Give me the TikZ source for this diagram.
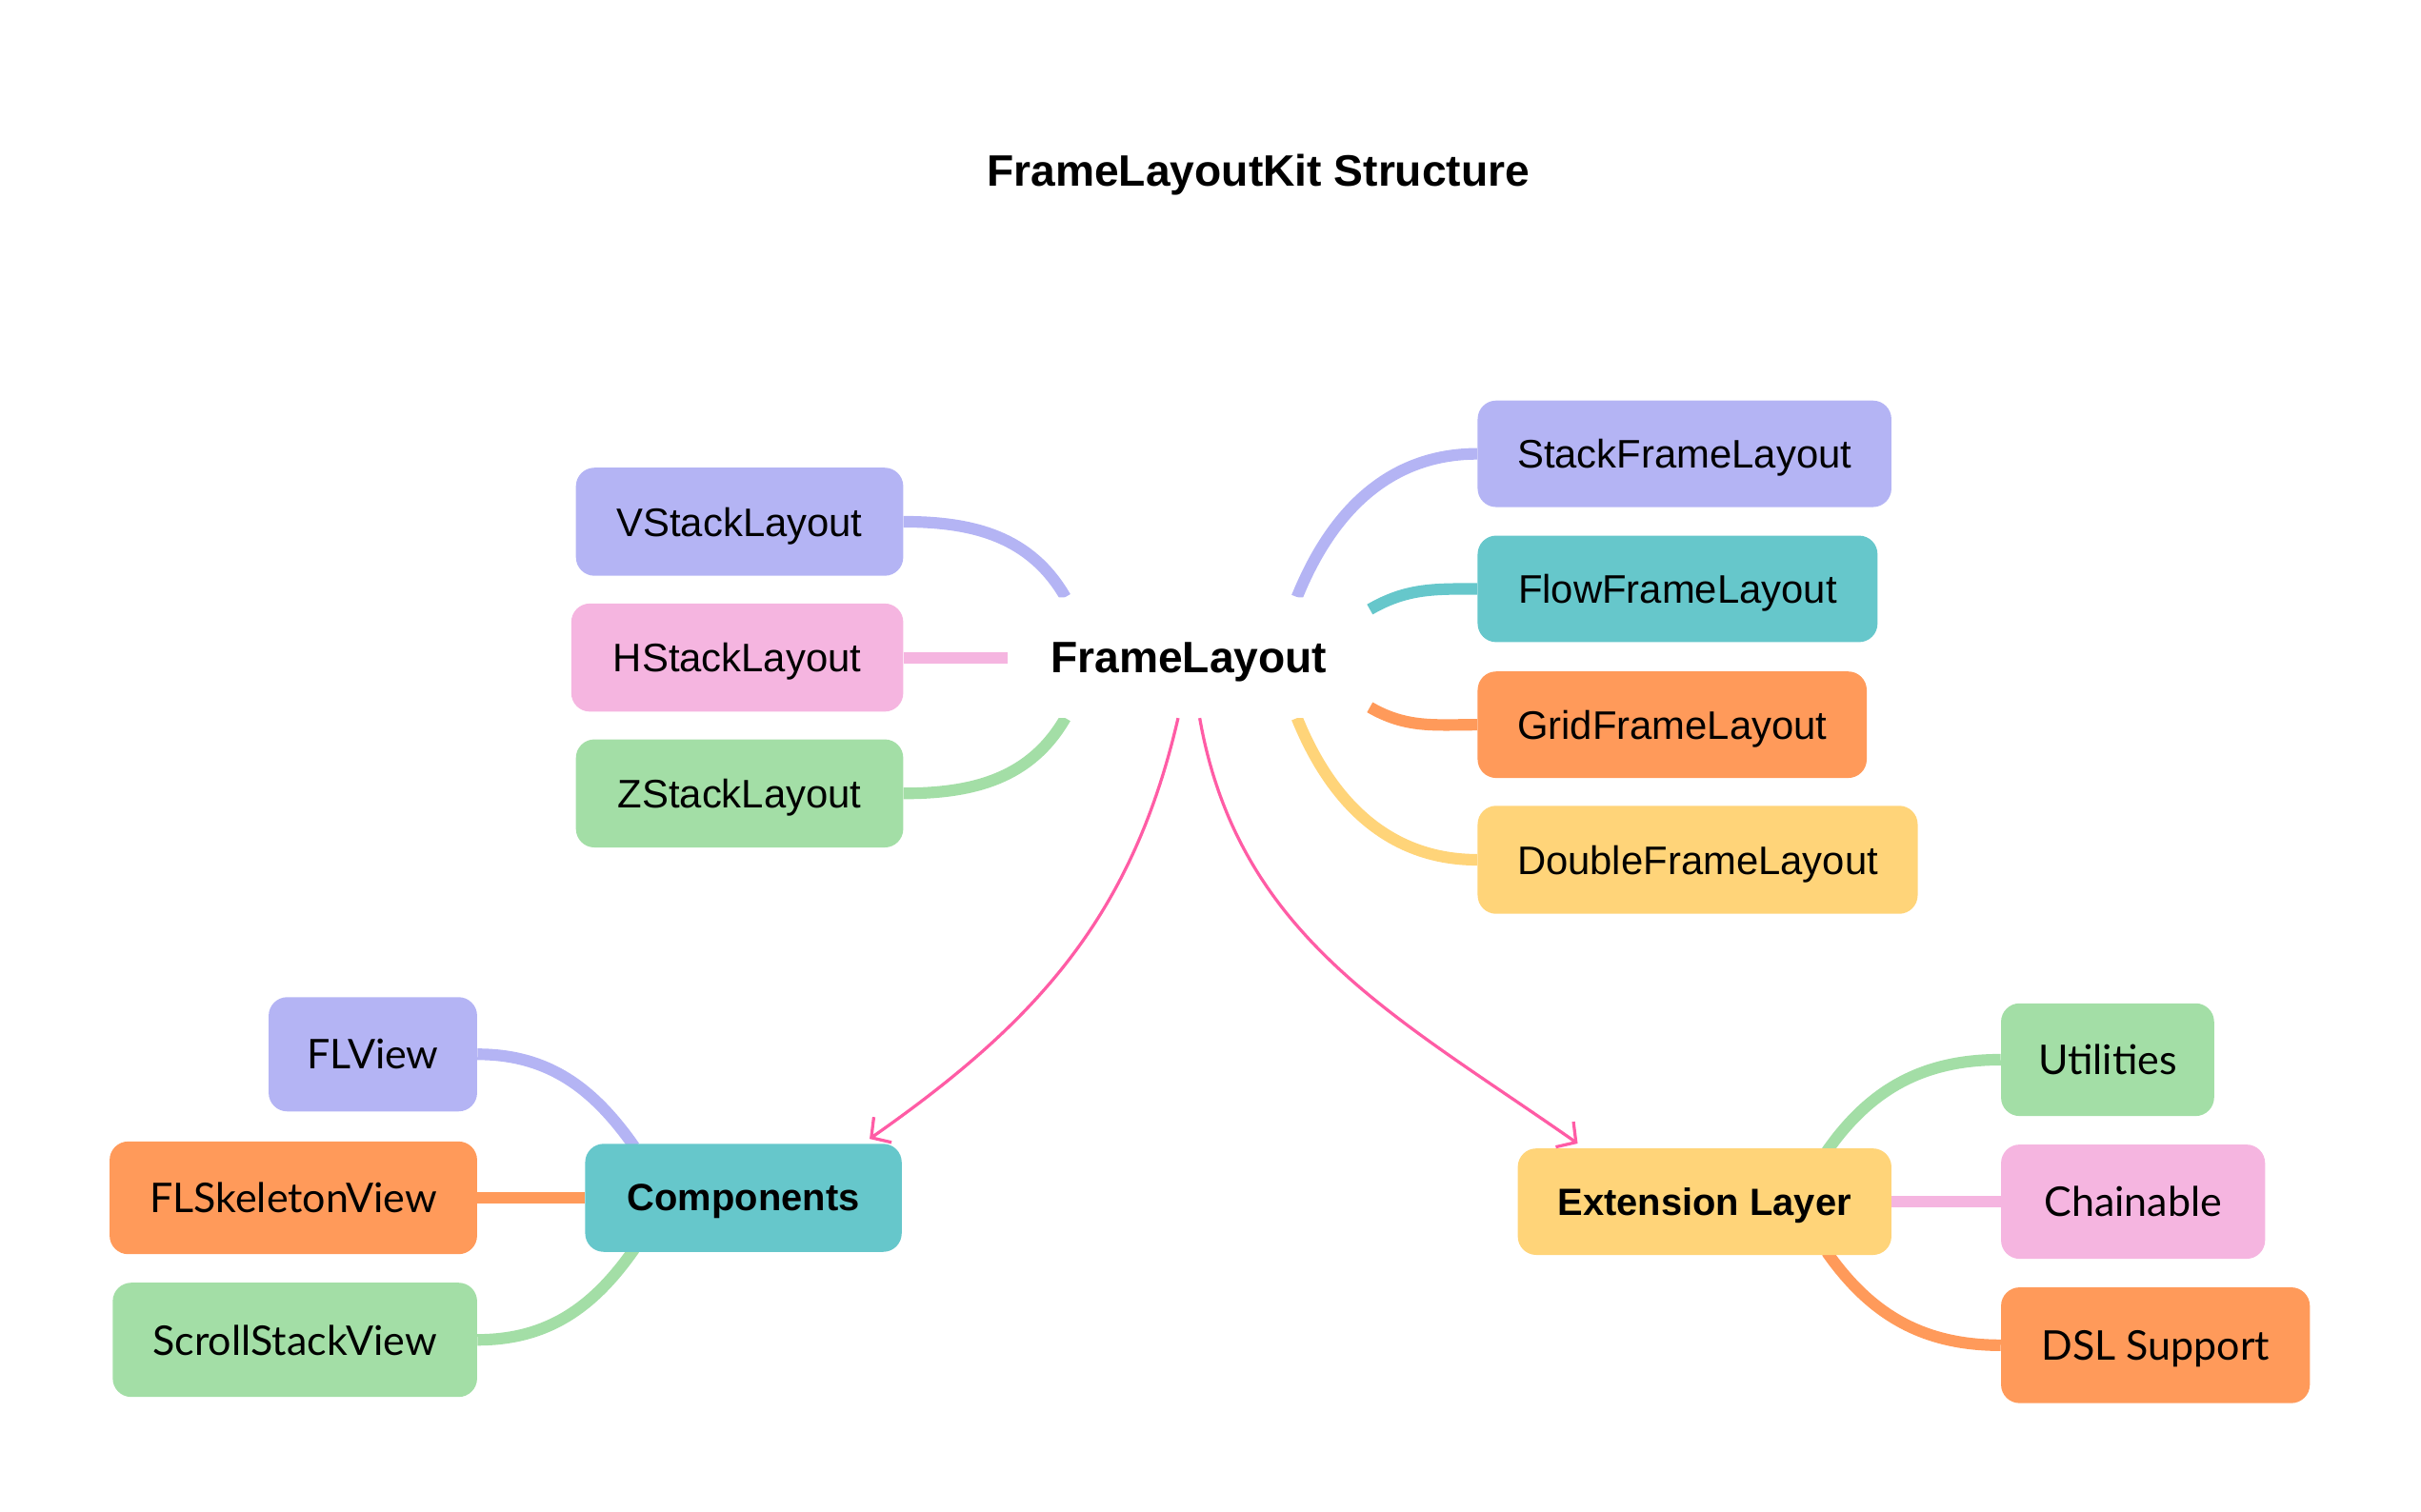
\documentclass[tikz,border=0pt]{standalone}
\usepackage{fontspec}
\setmainfont{Liberation Sans}
\newfontfamily\avfont{Lato}
\usetikzlibrary{arrows.meta,calc}
\definecolor{clav}{HTML}{B4B4F4}
\definecolor{cteal}{HTML}{66C7CB}
\definecolor{corange}{HTML}{FF9A5A}
\definecolor{cyellow}{HTML}{FFD479}
\definecolor{cpink}{HTML}{F5B5E0}
\definecolor{cgreen}{HTML}{A3DEA6}
\definecolor{carrow}{HTML}{FF5CA5}
\pgfdeclarelayer{bg}
\pgfsetlayers{bg,main}
\tikzset{
  box/.style={rounded corners=12pt, inner sep=0pt, text=black, text depth=0pt, font=\fontsize{25.8}{30}\selectfont},
  avbox/.style={rounded corners=12pt, inner sep=0pt, text=black, text depth=0pt, font=\avfont\fontsize{26.5}{30}\selectfont},
  hubbox/.style={rounded corners=12pt, inner sep=0pt, text=black, text depth=0pt, font=\bfseries\fontsize{24.6}{30}\selectfont},
  link/.style={line width=7.5pt, line cap=butt},
  arr/.style={draw=carrow, line width=2pt, -{Straight Barb[length=9pt,width=20pt,line width=2pt]}},
}
\begin{document}
\begin{tikzpicture}[x=1pt,y=-1pt]
\useasboundingbox (0,0) rectangle (1568,979.5);
% title
\node[text depth=0pt, font=\bfseries\fontsize{28.5}{32}\selectfont] (title) at (815,110) {FrameLayoutKit Structure};
% root
\node[rounded corners=12pt, fill=white, inner sep=0pt, minimum width=234pt, minimum height=78pt, text depth=0pt,
      font=\bfseries\fontsize{28.5}{32}\selectfont] (fl) at (770,426) {FrameLayout};
% left children
\node[box, fill=clav, minimum width=212pt, minimum height=70pt] (vstack) at (479,338) {VStackLayout};
\node[box, fill=cpink, minimum width=215pt, minimum height=70pt] (hstack) at (477.5,426) {HStackLayout};
\node[box, fill=cgreen, minimum width=212pt, minimum height=70pt] (zstack) at (479,514) {ZStackLayout};
% right children
\node[box, fill=clav, minimum width=268pt, minimum height=69pt] (stackf) at (1091,294) {StackFrameLayout};
\node[box, fill=cteal, minimum width=259pt, minimum height=69pt] (flowf) at (1086.5,381.5) {FlowFrameLayout};
\node[box, fill=corange, minimum width=252pt, minimum height=69pt] (gridf) at (1083,469.5) {GridFrameLayout};
\node[box, fill=cyellow, minimum width=285pt, minimum height=70pt] (doublef) at (1099.5,557) {DoubleFrameLayout};
% components
\node[hubbox, fill=cteal, minimum width=205pt, minimum height=70pt] (comp) at (481.5,776) {Components};
\node[avbox, fill=clav, minimum width=135pt, minimum height=74pt] (flview) at (241.5,683) {FLView};
\node[avbox, fill=corange, minimum width=238pt, minimum height=73pt] (flskel) at (190,776) {FLSkeletonView};
\node[avbox, fill=cgreen, minimum width=236pt, minimum height=74pt] (scroll) at (191,868) {ScrollStackView};
% extension
\node[hubbox, fill=cyellow, minimum width=242pt, minimum height=69pt] (ext) at (1104,778.5) {Extension Layer};
\node[avbox, fill=cgreen, minimum width=138pt, minimum height=73pt] (util) at (1365,686.5) {Utilities};
\node[avbox, fill=cpink, minimum width=171pt, minimum height=74pt] (chain) at (1381.5,778.5) {Chainable};
\node[avbox, fill=corange, minimum width=200pt, minimum height=75pt] (dsl) at (1396,871.5) {DSL Support};
% connectors
\begin{pgfonlayer}{bg}
\draw[link, clav] (vstack.east) to[out=0, in=120] ($(fl.north)+(-80,0)$);
\draw[link, cpink] (hstack.east) -- (fl.west);
\draw[link, cgreen] (zstack.east) to[out=0, in=-120] ($(fl.south)+(-80,0)$);
\draw[link, clav] (stackf.west) to[out=180, in=68] ($(fl.north)+(70,0)$);
\draw[link, cteal] (flowf.west) to[out=180, in=30] ($(fl.north east)+(0,8)$);
\draw[link, corange] (gridf.west) to[out=180, in=-30] ($(fl.south east)+(0,-7)$);
\draw[link, cyellow] (doublef.west) to[out=180, in=-68] ($(fl.south)+(70,0)$);
\draw[link, clav] (flview.east) to[out=0, in=125] ($(comp.north west)+(32,2)$);
\draw[link, corange] (flskel.east) -- (comp.west);
\draw[link, cgreen] (scroll.east) to[out=0, in=-125] ($(comp.south west)+(32,-2)$);
\draw[link, cgreen] (util.west) to[out=180, in=55] ($(ext.north east)+(-42,2)$);
\draw[link, cpink] (chain.west) -- (ext.east);
\draw[link, corange] (dsl.west) to[out=180, in=-55] ($(ext.south east)+(-42,-2)$);
\end{pgfonlayer}
\draw[arr] ($(fl.south)+(-7,0)$) to[out=-103, in=35] ($(comp.north east)+(-21,-3)$);
\draw[arr] ($(fl.south)+(7,0)$) to[out=-80, in=145] ($(ext.north west)+(39,-3)$);
\end{tikzpicture}
\end{document}
